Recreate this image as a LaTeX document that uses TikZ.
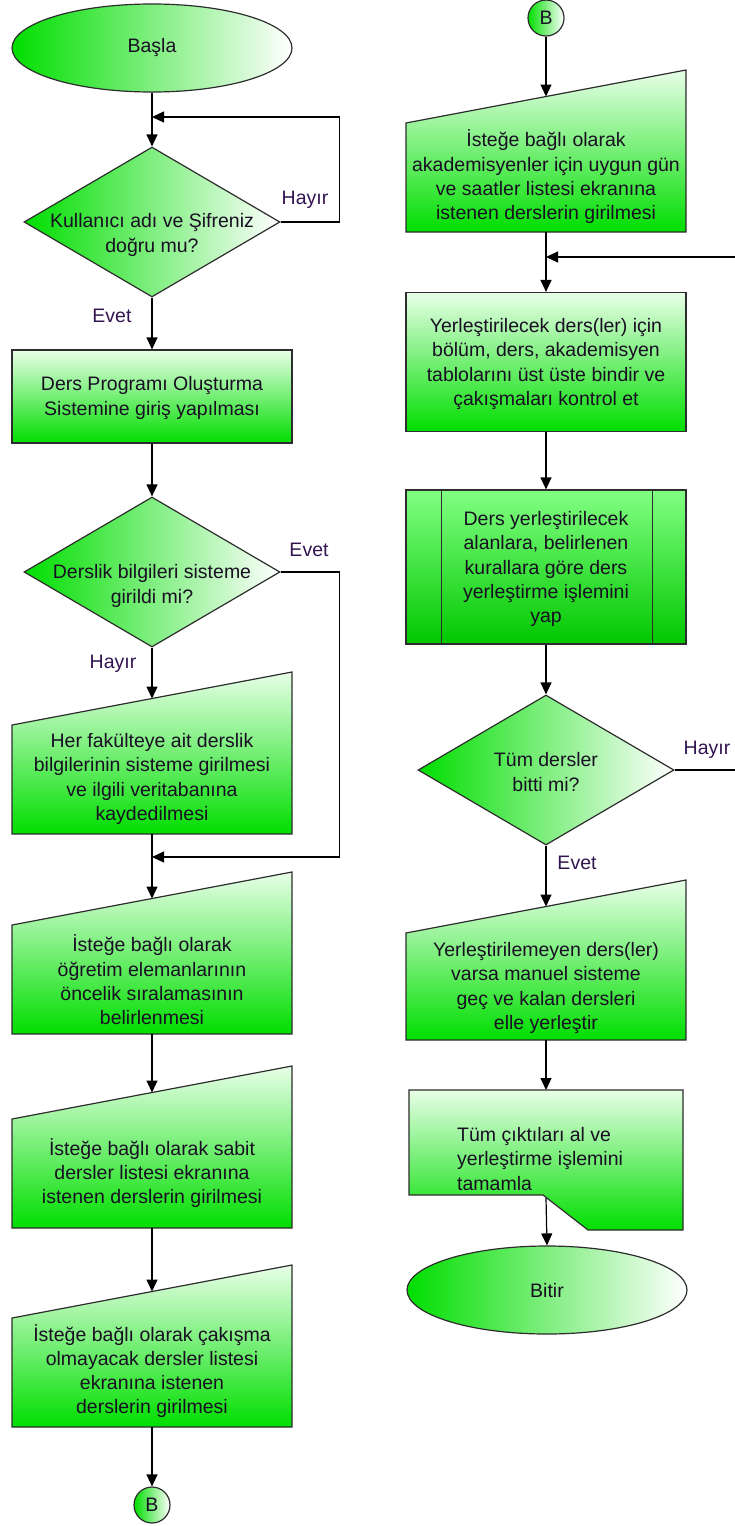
\documentclass[tikz,border=0pt]{standalone}
\usepackage{fontspec}
\setmainfont{Liberation Sans}
\usetikzlibrary{arrows.meta,shapes.geometric,calc}

\definecolor{fgreen}{RGB}{0,222,0}
\definecolor{palegreen}{RGB}{232,255,232}
\definecolor{midgreen}{RGB}{130,255,130}
\definecolor{edgegray}{RGB}{45,45,45}
\definecolor{ink}{RGB}{25,15,35}
\definecolor{labelink}{RGB}{50,20,80}

% manual input shape: name, left x, right x, top-left y, top-right y, bottom y
\newcommand\mInput[6]{%
  \path[vgrad] (#2,#4) -- (#3,#5) -- (#3,#6) -- (#2,#6) -- cycle;
  \coordinate (#1-in) at ({(#2+#3)/2},{(#4+#5)/2});
  \coordinate (#1-out) at ({(#2+#3)/2},#6);}

\begin{document}
\begin{tikzpicture}[x=1pt,y=-1pt,
  font=\fontsize{19.5}{24.3}\selectfont,
  outline/.style={draw=edgegray, line width=1.2pt},
  hgrad/.style={outline, left color=fgreen, right color=white},
  vgrad/.style={outline, top color=palegreen, bottom color=fgreen},
  terminal/.style={hgrad, ellipse, inner sep=0pt, minimum width=280pt, minimum height=88pt},
  decision/.style={hgrad, diamond, inner sep=0pt, minimum width=256pt, minimum height=150pt},
  process/.style={vgrad, rectangle, inner sep=0pt, minimum width=280pt},
  connector/.style={hgrad, circle, inner sep=0pt, minimum size=36pt},
  txt/.style={text=ink, align=center, inner sep=0pt},
  lbl/.style={text=labelink, inner sep=0pt},
  flow/.style={draw=black, line width=1.2pt, -{Triangle[width=11pt,length=12pt]}},
]
\useasboundingbox (0,0) rectangle (734,1526);

% ---------------- left column ----------------
\node[terminal] (start) at (152,48) {};
\node[txt] (startT) at (152,48) {Başla};

\node[decision] (d1) at (152,222) {};
\node[txt] (d1T) at (152,235) {Kullanıcı adı ve Şifreniz\\doğru mu?};

\node[process, minimum height=93pt] (b1) at (152,396.5) {};
\node[txt] (b1T) at (152,398) {Ders Programı Oluşturma\\Sistemine giriş yapılması};

\node[decision] (d2) at (152,572) {};
\node[txt] (d2T) at (152,586) {Derslik bilgileri sisteme\\girildi mi?};

\mInput{m2}{12}{292}{725}{672}{834}
\node[txt] (m2T) at (152,779) {Her fakülteye ait derslik\\bilgilerinin sisteme girilmesi\\ve ilgili veritabanına\\kaydedilmesi};

\mInput{m3}{12}{292}{925}{872}{1034}
\node[txt] (m3T) at (152,980) {İsteğe bağlı olarak\\öğretim elemanlarının\\öncelik sıralamasının\\belirlenmesi};

\mInput{m4}{12}{292}{1119}{1066}{1228}
\node[txt] (m4T) at (152,1173) {İsteğe bağlı olarak sabit\\dersler listesi ekranına\\istenen derslerin girilmesi};

\mInput{m5}{12}{292}{1318}{1265}{1427}
\node[txt] (m5T) at (152,1371) {İsteğe bağlı olarak çakışma\\olmayacak dersler listesi\\ekranına istenen\\derslerin girilmesi};

\node[connector] (bOut) at (152,1505) {};
\node[txt] (bOutT) at (152,1505) {B};

% ---------------- right column ----------------
\node[connector] (bIn) at (546,18) {};
\node[txt] (bInT) at (546,18) {B};

\mInput{r1}{406}{686}{123}{70}{232}
\node[txt] (r1T) at (546,177) {İsteğe bağlı olarak\\akademisyenler için uygun gün\\ve saatler listesi ekranına\\istenen derslerin girilmesi};

\node[process, minimum height=139pt] (r2) at (546,362) {};
\node[txt] (r2T) at (546,364) {Yerleştirilecek ders(ler) için\\bölüm, ders, akademisyen\\tablolarını üst üste bindir ve\\çakışmaları kontrol et};

\node[process, top color=midgreen, bottom color=fgreen!90!black, minimum height=154pt] (r3) at (546,567) {};
\draw[outline] ($(r3.north west)+(36,0)$) -- ($(r3.south west)+(36,0)$);
\draw[outline] ($(r3.north east)+(-34,0)$) -- ($(r3.south east)+(-34,0)$);
\node[txt] (r3T) at (546,569) {Ders yerleştirilecek\\alanlara, belirlenen\\kurallara göre ders\\yerleştirme işlemini\\yap};

\node[decision] (d3) at (546,770) {};
\node[txt] (d3T) at (546,772) {Tüm dersler\\bitti mi?};

\mInput{r4}{406}{686}{933}{880}{1040}
\node[txt] (r4T) at (546,988) {Yerleştirilemeyen ders(ler)\\varsa manuel sisteme\\geç ve kalan dersleri\\elle yerleştir};

% output block with a cut-away lower edge
\path[vgrad] (409,1090) -- (683,1090) -- (683,1230) -- (588,1230) -- (543,1195) -- (409,1195) -- cycle;
\coordinate (r5-in) at (546,1090);
\coordinate (r5-out) at (546,1198);
\node[txt, align=left, anchor=west] (r5T) at (457,1159) {Tüm çıktıları al ve\\yerleştirme işlemini\\tamamla};

\node[terminal] (stop) at (547,1290) {};
\node[txt] (stopT) at (547,1290) {Bitir};

% ---------------- junctions ----------------
\coordinate (j1) at (152,117);
\coordinate (j2) at (152,857);
\coordinate (j3) at (546,257);

% ---------------- connectors ----------------
\draw[flow] (start.south) -- (d1.north);
\draw[flow] (d1.east) -- ++(59,0) |- (j1);
\draw[flow] (d1.south) -- (b1.north);
\draw[flow] (b1.south) -- (d2.north);
\draw[flow] (d2.south) -- (m2-in);
\draw[flow] (d2.east) -- ++(59,0) |- (j2);
\draw[flow] (m2-out) -- (m3-in);
\draw[flow] (m3-out) -- (m4-in);
\draw[flow] (m4-out) -- (m5-in);
\draw[flow] (m5-out) -- (bOut.north);

\draw[flow] (bIn.south) -- (r1-in);
\draw[flow] (r1-out) -- (r2.north);
\draw[flow] (r2.south) -- (r3.north);
\draw[flow] (r3.south) -- (d3.north);
\draw[flow] (d3.east) -- ++(72,0) |- (j3);
\draw[flow] (d3.south) -- (r4-in);
\draw[flow] (r4-out) -- (r5-in);
\draw[flow] (r5-out) -- (stop.north);

% ---------------- branch labels ----------------
\node[lbl] (l1) at (305,200) {Hayır};
\node[lbl] (l2) at (112,316) {Evet};
\node[lbl] (l3) at (309,550) {Evet};
\node[lbl] (l4) at (113,664) {Hayır};
\node[lbl] (l5) at (707,750) {Hayır};
\node[lbl] (l6) at (577,863) {Evet};
\end{tikzpicture}
\end{document}
